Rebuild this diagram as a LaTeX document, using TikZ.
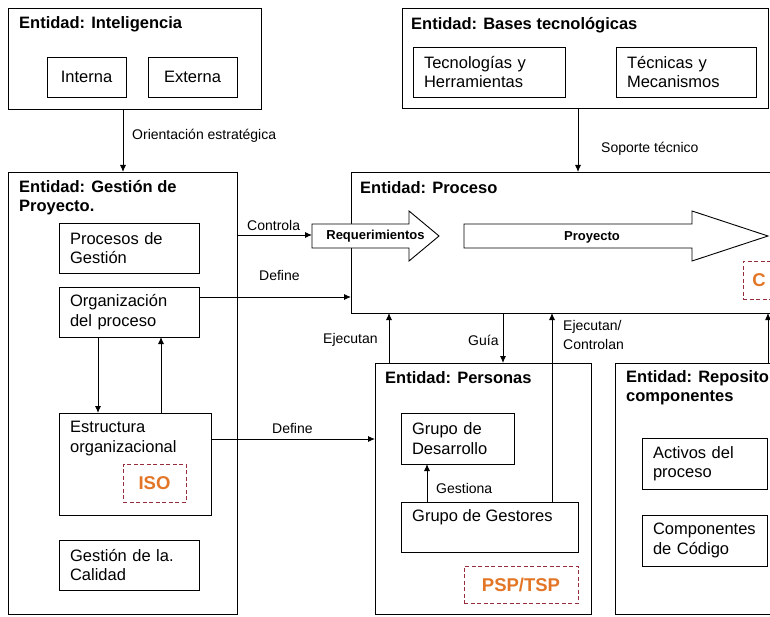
\documentclass[tikz,border=0pt]{standalone}
\usepackage{fontspec}
\setmainfont{Liberation Sans}
\usetikzlibrary{arrows.meta,calc}
\definecolor{naranja}{RGB}{226,118,38}
\definecolor{granate}{RGB}{150,45,60}
\tikzstyle{entidad}  = [draw, rectangle, inner sep=0pt, outer sep=0pt, line width=0.9pt]
\tikzstyle{caja}     = [draw, rectangle, inner xsep=11pt, inner ysep=0pt, outer sep=0pt, align=left, line width=0.9pt, font=\fontsize{16.5}{19.5}\selectfont]
\tikzstyle{texto}    = [anchor=west, inner sep=0pt, align=left, font=\fontsize{16.5}{19.5}\selectfont]
\tikzstyle{titulo}   = [anchor=west, inner sep=0pt, align=left, font=\bfseries\fontsize{16.5}{19}\selectfont]
\tikzstyle{etiqueta} = [anchor=west, inner sep=0pt, align=left, font=\fontsize{14}{19}\selectfont]
\tikzstyle{marca}    = [draw=granate, dash pattern=on 4pt off 2.5pt, rectangle, inner sep=0pt, line width=0.8pt, text=naranja, font=\bfseries\fontsize{18.5}{18.5}\selectfont]
\tikzstyle{bloque}   = [draw, fill=white, line width=0.9pt]
\tikzstyle{arrow}    = [line width=0.9pt, -{Latex[length=7pt,width=6pt]}]

\begin{document}
\begin{tikzpicture}[x=1pt, y=-1pt]
		\useasboundingbox (0,0) rectangle (770,617);
		\clip (0,0) rectangle (770,617);

		% entidades
		\node[entidad, minimum width=253pt, minimum height=101pt] (intel) at (134.5,58.5) {};
		\node[entidad, minimum width=366pt, minimum height=100pt] (bases) at (585,58) {};
		\node[entidad, minimum width=229pt, minimum height=442pt] (gestion) at (122.5,393) {};
		\node[entidad, minimum width=449pt, minimum height=141pt] (proceso) at (575.5,242.5) {};
		\node[entidad, minimum width=216pt, minimum height=251pt] (personas) at (483,488.5) {};
		\node[entidad, minimum width=185pt, minimum height=251pt] (repos) at (707.5,488.5) {};

		\node[titulo] (tintel) at (19,24) {Entidad: Inteligencia};
		\node[titulo] (tbases) at (411,25) {Entidad: Bases tecnológicas};
		\node[titulo] (tgestion) at (19,198) {Entidad: Gestión de\\Proyecto.};
		\node[titulo] (tproceso) at (360,188) {Entidad: Proceso};
		\node[titulo] (tpersonas) at (385,378) {Entidad: Personas};
		\node[titulo] (trepos) at (626,388) {Entidad: Reposito\\componentes};

		% cajas internas
		\node[caja, align=center, minimum width=79pt, minimum height=40pt] (interna) at (86.5,77) {Interna};
		\node[caja, align=center, minimum width=89pt, minimum height=40pt] (externa) at (192.5,77) {Externa};
		\node[caja, text width=130pt, minimum height=50pt] (tecno) at (489,72) {Tecnologías y\\Herramientas};
		\node[caja, text width=118pt, minimum height=50pt] (tecnicas) at (686,72) {Técnicas y\\Mecanismos};
		\node[caja, text width=118pt, minimum height=50pt] (procgest) at (129,248) {Procesos de\\Gestión};
		\node[caja, text width=118pt, minimum height=50pt] (orgproc) at (129,312) {Organización\\del proceso};
		\node[caja, minimum width=152pt, minimum height=102pt] (estruct) at (135,464) {};
		\node[texto] (testruct) at (70,438.5) {Estructura\\organizacional};
		\node[marca, minimum width=63pt, minimum height=38pt] (iso) at (154.5,483) {ISO};
		\node[caja, text width=118pt, minimum height=50pt] (calidad) at (129,565) {Gestión de la.\\Calidad};
		\node[caja, text width=91pt, minimum height=51pt] (desarrollo) at (457.5,438.5) {Grupo de\\Desarrollo};
		\node[caja, minimum width=177pt, minimum height=50pt] (gestores) at (489.5,527) {};
		\node[texto] (tgestores) at (412,517) {Grupo de Gestores};
		\node[marca, minimum width=114pt, minimum height=37pt] (psp) at (521,584.5) {PSP/TSP};
		\node[caja, text width=103pt, minimum height=51pt] (activos) at (704.5,463.5) {Activos del\\proceso};
		\node[caja, text width=103pt, minimum height=51pt] (componentes) at (704.5,540.5) {Componentes\\de Código};
		\node[marca, anchor=north west, align=left, inner xsep=9pt, text width=42pt, minimum height=38pt] (cmmi) at (743,261) {C};

		% flechas de bloque
		\draw[bloque] (312,224) -- (409,224) -- (409,211) -- (439,236) -- (409,261) -- (409,248) -- (312,248) -- cycle;
		\draw[bloque] (464,224) -- (692,224) -- (692,211) -- (768,236) -- (692,261) -- (692,248) -- (464,248) -- cycle;
		\node[font=\bfseries\fontsize{13}{13}\selectfont] (req) at (375.5,236) {Requerimientos};
		\node[font=\bfseries\fontsize{13}{13}\selectfont] (proyecto) at (592,237) {Proyecto};
		\coordinate (reqcola) at (312,235);

		% relaciones
		\draw[arrow] (intel.south -| 123,0) -- (gestion.north -| 123,0);
		\draw[arrow] (bases.south -| 578,0) -- (proceso.north -| 578,0);
		\draw[arrow] (reqcola -| gestion.east) -- (reqcola);
		\draw[arrow] (orgproc.east |- 0,297) -- (proceso.west |- 0,297);
		\draw[arrow] (orgproc.south -| 98,0) -- (estruct.north -| 98,0);
		\draw[arrow] (estruct.north -| 161,0) -- (orgproc.south -| 161,0);
		\draw[arrow] (estruct.east |- 0,439) -- (personas.west |- 0,439);
		\draw[arrow] (personas.north -| 389,0) -- (proceso.south -| 389,0);
		\draw[arrow] (proceso.south -| 503,0) -- (personas.north -| 503,0);
		\draw[arrow] (gestores.north -| 552,0) -- (proceso.south -| 552,0);
		\draw[arrow] (repos.north -| 768,0) -- (proceso.south -| 768,0);
		\draw[arrow] (gestores.north -| 427,0) -- (desarrollo.south -| 427,0);

		\node[etiqueta] (lorient) at (132,136) {Orientación estratégica};
		\node[etiqueta] (lsoporte) at (601,149) {Soporte técnico};
		\node[etiqueta] (lcontrola) at (247,225) {Controla};
		\node[etiqueta] (ldefine) at (259,275) {Define};
		\node[etiqueta] (ldefine2) at (272,428) {Define};
		\node[etiqueta] (lejecutan) at (323,340) {Ejecutan};
		\node[etiqueta] (lguia) at (468,340) {Guía};
		\node[etiqueta] (lejcon) at (563,335) {Ejecutan/\\Controlan};
		\node[etiqueta] (lgestiona) at (436,488) {Gestiona};
	\end{tikzpicture}
\end{document}
